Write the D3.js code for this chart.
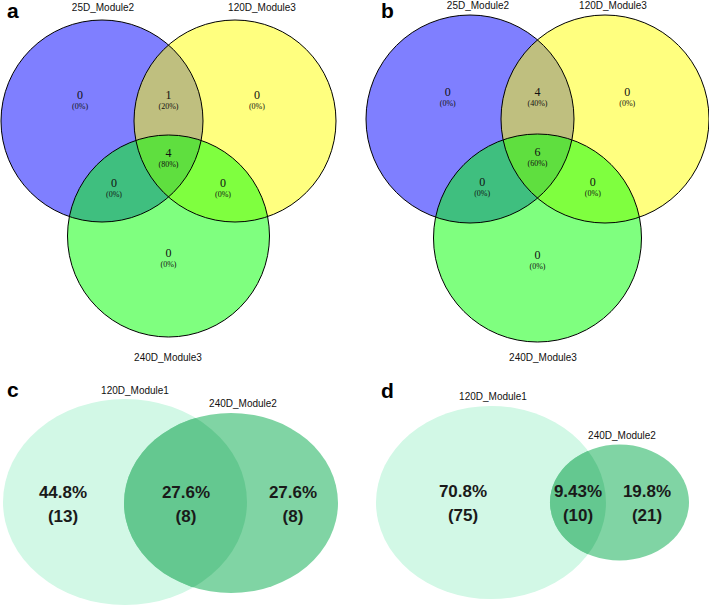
<!DOCTYPE html>
<html>
<head>
<meta charset="utf-8">
<script src="https://cdn.jsdelivr.net/npm/d3@7"></script>
<style>
html,body{margin:0;padding:0;background:#fff;}
svg{display:block;}
</style>
</head>
<body>
<svg id="chart" width="709" height="607"></svg>
<script>
// ---------- DATA ----------
const setNamesAB = ["25D_Module2", "120D_Module3", "240D_Module3"];
// regions: A only, A∩B, B only, A∩B∩C, A∩C, B∩C, C only
const regionKeys = ["A", "AB", "B", "ABC", "AC", "BC", "C"];
const countsA = [0, 1, 0, 4, 0, 0, 0];
const pctsA   = ["0%", "20%", "0%", "80%", "0%", "0%", "0%"];
const countsB = [0, 4, 0, 6, 0, 0, 0];
const pctsB   = ["0%", "40%", "0%", "60%", "0%", "0%", "0%"];

const setNamesCD = ["120D_Module1", "240D_Module2"];
// regions: first only, both, second only
const pctsC   = ["44.8%", "27.6%", "27.6%"];
const countsC = [13, 8, 8];
const pctsD   = ["70.8%", "9.43%", "19.8%"];
const countsD = [75, 10, 21];

const panelLetters = ["a", "b", "c", "d"];

// ---------- LAYOUT ----------
const svg = d3.select("#chart");
const vennColors = ["#0000ff", "#ffff00", "#00ff00"];

function venn3(cfg, counts, pcts, names, letter) {
  const g = svg.append("g");
  const x = d3.scaleLinear().domain([0, 1]).range([cfg.x0, cfg.x0 + cfg.s]);
  const y = d3.scaleLinear().domain([0, 1]).range([cfg.y0, cfg.y0 + cfg.s]);
  const r = cfg.s * cfg.r;
  const centers = [[0, 0], [cfg.dx, 0], [cfg.dx / 2, cfg.dy]];
  g.selectAll("circle.fill").data(centers).join("circle")
    .attr("class", "fill")
    .attr("cx", d => x(d[0])).attr("cy", d => y(d[1])).attr("r", r)
    .attr("fill", (d, i) => vennColors[i]).attr("fill-opacity", 0.5)
    .attr("stroke", "none");
  g.selectAll("circle.edge").data(centers).join("circle")
    .attr("class", "edge")
    .attr("cx", d => x(d[0])).attr("cy", d => y(d[1])).attr("r", r)
    .attr("fill", "none").attr("stroke", "#000").attr("stroke-width", 1);

  const dx = cfg.dx, dy = cfg.dy;
  const anchors = {
    A:   [-0.165, -0.195],
    AB:  [dx / 2, -0.195],
    B:   [dx + 0.165, -0.195],
    ABC: [dx / 2, 0.248],
    AC:  [dx / 2 - 0.41, 0.473],
    BC:  [dx / 2 + 0.41, 0.473],
    C:   [dx / 2, dy + 0.128]
  };
  regionKeys.forEach((k, i) => {
    const ax = x(anchors[k][0]), ay = y(anchors[k][1]);
    g.append("text").attr("x", ax).attr("y", ay + 3.5)
      .attr("text-anchor", "middle")
      .style("font-family", "'Liberation Serif','DejaVu Serif',serif")
      .style("font-size", "12px").attr("fill", "#111")
      .text(counts[i]);
    g.append("text").attr("x", ax).attr("y", ay + 13.5)
      .attr("text-anchor", "middle")
      .style("font-family", "'Liberation Serif','DejaVu Serif',serif")
      .style("font-size", "8px").attr("fill", "#111")
      .text("(" + pcts[i] + ")");
  });
  const lab = (t, px, py) => g.append("text").attr("x", px).attr("y", py)
    .attr("text-anchor", "middle")
    .style("font-family", "'Liberation Sans',Arial,sans-serif")
    .style("font-size", "10px").attr("fill", "#111").text(t);
  lab(names[0], cfg.t0[0], cfg.t0[1]);
  lab(names[1], cfg.t1[0], cfg.t1[1]);
  lab(names[2], cfg.t2[0], cfg.t2[1]);
  g.append("text").attr("x", cfg.L[0]).attr("y", cfg.L[1])
    .style("font-family", "'Liberation Sans',Arial,sans-serif")
    .style("font-weight", "bold").style("font-size", "21px").attr("fill", "#000")
    .text(letter);
}

venn3({x0: 102, y0: 121, s: 133, r: 101 / 133, dx: 1, dy: 115 / 133,
       t0: [103, 11], t1: [262, 11], t2: [168, 361], L: [7, 18]},
      countsA, pctsA, setNamesAB, panelLetters[0]);
venn3({x0: 470, y0: 119, s: 135, r: 104 / 135, dx: 1, dy: 119 / 135,
       t0: [478, 9], t1: [613, 9], t2: [543, 361], L: [381, 18]},
      countsB, pctsB, setNamesAB, panelLetters[1]);

let clipId = 0;
function venn2(cfg, pcts, counts, names, letter) {
  const g = svg.append("g");
  const e1 = cfg.e1, e2 = cfg.e2;
  const id = "clip" + (clipId++);
  g.append("clipPath").attr("id", id).append("ellipse")
    .attr("cx", e1[0]).attr("cy", e1[1]).attr("rx", e1[2]).attr("ry", e1[3]);
  g.append("ellipse").attr("cx", e1[0]).attr("cy", e1[1]).attr("rx", e1[2]).attr("ry", e1[3])
    .attr("fill", "#d2f8e6");
  g.append("ellipse").attr("cx", e2[0]).attr("cy", e2[1]).attr("rx", e2[2]).attr("ry", e2[3])
    .attr("fill", "#80d4a4");
  g.append("ellipse").attr("cx", e2[0]).attr("cy", e2[1]).attr("rx", e2[2]).attr("ry", e2[3])
    .attr("fill", "#64c890").attr("clip-path", "url(#" + id + ")");
  const xs = cfg.xs;
  pcts.forEach((p, i) => {
    g.append("text").attr("x", xs[i]).attr("y", cfg.yb)
      .attr("text-anchor", "middle")
      .style("font-family", "'Liberation Sans',Arial,sans-serif")
      .style("font-weight", "bold").style("font-size", "17px").attr("fill", "#1a1a1a")
      .text(p);
    g.append("text").attr("x", xs[i]).attr("y", cfg.yb + 24)
      .attr("text-anchor", "middle")
      .style("font-family", "'Liberation Sans',Arial,sans-serif")
      .style("font-weight", "bold").style("font-size", "17px").attr("fill", "#1a1a1a")
      .text("(" + counts[i] + ")");
  });
  const lab = (t, px, py) => g.append("text").attr("x", px).attr("y", py)
    .attr("text-anchor", "middle")
    .style("font-family", "'Liberation Sans',Arial,sans-serif")
    .style("font-size", "10px").attr("fill", "#111").text(t);
  lab(names[0], cfg.t0[0], cfg.t0[1]);
  lab(names[1], cfg.t1[0], cfg.t1[1]);
  g.append("text").attr("x", cfg.L[0]).attr("y", cfg.L[1])
    .style("font-family", "'Liberation Sans',Arial,sans-serif")
    .style("font-weight", "bold").style("font-size", "21px").attr("fill", "#000")
    .text(letter);
}

venn2({e1: [125, 502, 122, 103], e2: [231, 503, 107, 90], xs: [63, 186, 293], yb: 498,
       t0: [135, 394], t1: [243, 407], L: [7, 397]},
      pctsC, countsC, setNamesCD, panelLetters[2]);
venn2({e1: [491, 502.5, 115, 96.5], e2: [619.5, 502.5, 69.5, 58], xs: [463, 578, 647], yb: 497,
       t0: [493, 400], t1: [622, 439], L: [381, 398]},
      pctsD, countsD, setNamesCD, panelLetters[3]);
</script>
</body>
</html>
